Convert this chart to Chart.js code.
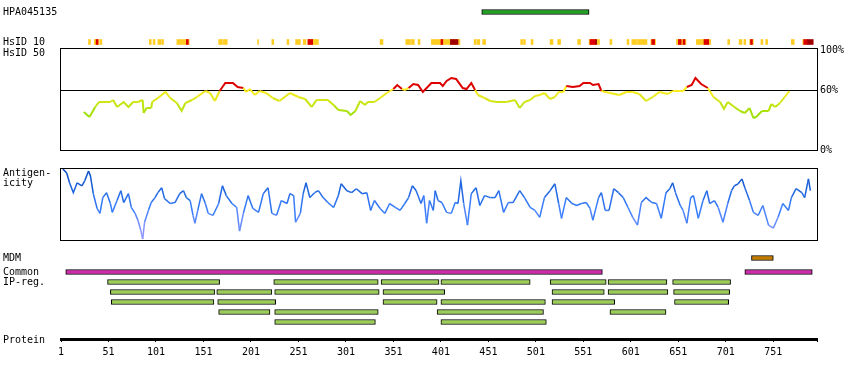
<!DOCTYPE html>
<html>
<head>
<meta charset="utf-8">
<script src="https://cdn.jsdelivr.net/npm/chart.js@4"></script>
<style>
  body { margin: 0; background: #fff; }
  #wrap { position: relative; width: 850px; height: 380px; overflow: hidden; }
  #wrap canvas { position: absolute; left: 0; }
</style>
</head>
<body>
<div id="wrap">
  <canvas id="cTop" width="850" height="53" style="top:0px"></canvas>
  <canvas id="cHs50" width="850" height="120" style="top:40px"></canvas>
  <canvas id="cAg" width="850" height="90" style="top:160px"></canvas>
  <canvas id="cMdm" width="850" height="22" style="top:247px"></canvas>
  <canvas id="cTracks" width="850" height="72" style="top:261px"></canvas>
  <canvas id="cProt" width="850" height="40" style="top:328px"></canvas>
</div>
<script>
// protein length and axis ticks
const proteinLength = 797;
const tickResidues = [1, 51, 101, 151, 201, 251, 301, 351, 401, 451, 501, 551, 601, 651, 701, 751];

// antigen fragment
const antigenName = "HPA045135";
const antigenRange = [444, 557];

// HsID 10 hits (residue ranges)
const hsid10Yellow = [[30,32],[36,41],[42,44],[94,96],[98,100],[103,106],[107,109],[123,136],[167,171],[172,176],
  [208,209],[223,225],[239,241],[248,253],[256,259],[261,272],[337,340],[364,369],[370,373],[377,379],[391,421],
  [436,438],[439,442],[445,448],[485,487],[488,490],[496,498],[516,519],[524,527],[545,548],[557,568],[579,581],
  [597,599],[602,607],[608,618],[622,627],[649,659],[670,685],[703,705],[715,718],[720,722],[726,730],[738,740],
  [743,745],[770,773],[782,783]];
const hsid10Red = [[38,40],[133,135],[261,266],[401,403],[558,564],[623,626],[651,654],[656,658],[678,683],[727,729],[783,787]];
const hsid10DarkRed = [[411,419],[564,565],[787,793]];

// HsID 50 (% identity)
const hs50Residue = [25,31,37,41,47,53,56,60,67,72,77,82,87,88,91,96,97,103,111,116,123,128,132,139,144,153,158,163,168,174,
  182,187,193,196,200,205,210,217,224,231,242,251,258,265,270,277,282,288,293,302,306,311,316,321,324,331,337,344,351,355,
  360,363,367,372,377,382,391,400,403,407,412,417,424,428,433,437,440,447,453,460,470,479,484,489,495,500,505,510,516,521,
  525,530,533,540,547,551,558,561,567,570,579,589,596,603,610,617,624,631,640,645,656,660,665,669,675,682,688,695,699,703,
  710,716,721,726,730,733,739,746,749,753,758,763,768];
const hs50Value = [38,33,43,48,48,48,50,43,48,43,48,48,50,37,42,42,48,52,58,52,47,39,47,50,53,59,57,49,59,67,
  67,63,62,58,61,55,59,57,52,49,57,53,51,43,50,50,50,45,40,39,35,39,49,45,48,48,52,57,61,65,
  61,60,62,66,65,58,67,67,64,69,72,71,62,61,67,60,55,52,49,48,48,50,42,48,50,54,55,57,51,53,
  58,58,64,63,64,67,67,65,66,59,57,55,58,58,56,49,53,58,56,59,59,63,65,72,66,62,53,48,41,48,
  43,39,37,42,32,33,39,39,46,43,47,53,59];
const hs50Ticks = [0, 60, 100];

// antigenicity
const agResidue = [3,7,10,14,18,23,26,30,32,35,39,42,45,49,53,55,60,64,67,72,75,79,82,85,87,89,93,96,100,103,
  107,110,116,121,126,130,133,137,140,142,145,149,153,156,161,167,171,175,181,186,189,193,198,203,209,214,219,223,228,233,
  239,242,246,248,253,256,259,263,268,272,277,282,288,293,296,302,307,312,318,323,327,331,337,342,347,353,358,363,367,371,
  375,380,383,386,389,393,395,398,402,407,412,416,419,422,425,429,433,438,442,447,453,458,462,467,472,477,484,489,495,500,
  505,510,516,521,525,528,533,539,544,549,554,558,561,567,570,574,578,583,588,593,598,603,608,612,617,623,628,633,638,642,
  645,648,653,656,660,664,667,672,677,681,684,689,693,698,703,707,710,714,718,721,726,730,735,740,746,751,756,761,767,770,
  775,781,784,788,790];
const agValue = [72,68,58,48,58,55,60,70,65,47,32,27,43,48,37,28,40,50,38,47,33,27,20,10,1,18,30,38,43,48,
  53,42,37,38,47,50,43,40,25,17,30,47,37,27,25,37,55,45,37,33,9,27,45,32,28,47,53,27,25,40,
  37,47,45,18,27,47,58,43,48,50,43,38,33,45,57,50,48,52,47,48,30,40,32,27,37,33,30,37,43,55,
  50,37,45,17,40,30,50,40,38,28,27,38,37,60,37,15,47,53,35,45,43,43,50,28,38,38,50,43,33,30,
  23,43,50,57,37,22,43,37,35,37,38,32,20,43,48,30,30,52,48,43,33,23,15,38,43,38,37,22,48,52,
  58,48,35,30,17,43,45,22,40,50,37,40,33,18,37,50,55,57,62,53,40,28,25,35,15,12,23,37,30,43,
  52,48,43,62,50];

// MDM and common IP regions
const mdmRanges = [[728, 751]];
const commonRanges = [[6, 571], [721, 792]];
const ipRegRows = [
  [[50,168],[225,335],[338,399],[401,495],[516,575],[577,639],[645,706]],
  [[53,163],[165,223],[226,336],[340,405],[518,573],[577,640],[646,705]],
  [[54,162],[166,227],[340,397],[401,511],[518,584],[647,704]],
  [[167,221],[226,335],[397,509],[579,638]],
  [[226,332],[401,512]]
];

Chart.defaults.font.family = "'DejaVu Sans Mono', monospace";
Chart.defaults.font.size = 10;
Chart.defaults.color = "#000";
const FONT = "10px 'DejaVu Sans Mono', monospace";

const framePlugin = {
  id: "frame",
  afterDatasetsDraw(chart) {
    const { ctx, chartArea: a } = chart;
    ctx.save();
    ctx.strokeStyle = "#000";
    ctx.lineWidth = 1;
    ctx.strokeRect(a.left - 0.5, a.top - 0.5, a.right - a.left + 1, a.bottom - a.top + 1);
    ctx.restore();
  }
};

const sideLabelPlugin = {
  id: "sideLabel",
  afterDraw(chart, args, opts) {
    const { ctx, chartArea: a } = chart;
    const y0 = opts.from === "bottom" ? a.bottom : a.top;
    ctx.save();
    ctx.font = FONT;
    ctx.fillStyle = "#000";
    ctx.textBaseline = "middle";
    opts.lines.forEach((t, i) => ctx.fillText(t, 3, y0 + opts.dy + i * 10));
    ctx.restore();
  }
};

function xHidden() {
  return { type: "linear", min: 1, max: proteinLength, display: false };
}

function barSet(ranges, lane, color, border) {
  return {
    data: ranges.map(r => ({ x: r, y: lane })),
    backgroundColor: color,
    borderColor: "#000",
    borderWidth: border ? 1 : 0,
    borderSkipped: false,
    barThickness: 5,
    grouped: false
  };
}

// lanes are 10px apart; padding keeps room for the tick labels
function laneChart(id, lanes, shown, datasets, padTop, padBottom) {
  return new Chart(document.getElementById(id), {
    type: "bar",
    data: { labels: lanes, datasets: datasets },
    options: {
      indexAxis: "y",
      responsive: false,
      animation: false,
      events: [],
      layout: { padding: { left: 3, right: 33, top: padTop, bottom: padBottom } },
      plugins: { legend: { display: false }, tooltip: { enabled: false } },
      scales: {
        x: xHidden(),
        y: {
          type: "category",
          position: "left",
          grid: { display: false },
          border: { display: false },
          ticks: { crossAlign: "far", padding: 0, autoSkip: false, callback: (v, i) => shown[i] },
          afterFit: s => { s.width = 58; }
        }
      }
    }
  });
}

// top: antigen + HsID 10 (first dataset is drawn on top)
const topLanes = [antigenName, "g1", "g2", "HsID 10"];
laneChart("cTop", topLanes, [antigenName, "", "", "HsID 10"], [
  barSet([antigenRange], antigenName, "#22a022", true),
  barSet(hsid10DarkRed, "HsID 10", "#a00000", false),
  barSet(hsid10Red, "HsID 10", "#dd0000", false),
  barSet(hsid10Yellow, "HsID 10", "#ffcc22", false)
], 7, 6);

// HsID 50 panel
function mix(c1, c2, t) {
  return "rgb(" + c1.map((c, i) => Math.round(c + (c2[i] - c) * t)).join(",") + ")";
}
function hsColor(v) {
  if (v > 61) return "#dd0000";
  const t = Math.max(0, Math.min(1, (v - 30) / 30));
  return mix([136, 221, 0], [255, 236, 34], t);
}
new Chart(document.getElementById("cHs50"), {
  type: "line",
  data: {
    datasets: [{
      data: hs50Residue.map((r, i) => ({ x: r, y: hs50Value[i] })),
      borderWidth: 2,
      borderColor: "#ccee22",
      pointRadius: 0,
      fill: false,
      segment: { borderColor: c => hsColor((c.p0.parsed.y + c.p1.parsed.y) / 2) }
    }]
  },
  options: {
    responsive: false,
    animation: false,
    events: [],
    layout: { padding: { left: 61, right: 0, top: 9, bottom: 10 } },
    plugins: {
      legend: { display: false }, tooltip: { enabled: false },
      sideLabel: { lines: ["HsID 50"], from: "top", dy: 4 }
    },
    scales: {
      x: xHidden(),
      y: {
        position: "right",
        min: 0,
        max: 101,
        afterBuildTicks: s => { s.ticks = hs50Ticks.map(v => ({ value: v })); },
        afterFit: s => { s.width = 33; },
        ticks: { padding: 3, callback: v => v + "%" },
        grid: { drawTicks: false, lineWidth: 1, color: c => (c.tick && c.tick.value === 60 ? "#000" : "rgba(0,0,0,0)") },
        border: { display: false }
      }
    }
  },
  plugins: [framePlugin, sideLabelPlugin]
});

// antigenicity panel
function agColor(v) {
  const t = Math.max(0, Math.min(1, v / 72));
  if (t < 0.45) return mix([165, 155, 255], [55, 125, 250], t / 0.45);
  return mix([55, 125, 250], [0, 72, 190], (t - 0.45) / 0.55);
}
new Chart(document.getElementById("cAg"), {
  type: "line",
  data: {
    datasets: [{
      data: agResidue.map((r, i) => ({ x: r, y: agValue[i] })),
      borderWidth: 1.5,
      borderColor: "#3c82ff",
      pointRadius: 0,
      fill: false,
      segment: { borderColor: c => agColor((c.p0.parsed.y + c.p1.parsed.y) / 2) }
    }]
  },
  options: {
    responsive: false,
    animation: false,
    events: [],
    layout: { padding: { left: 61, right: 33, top: 9, bottom: 10 } },
    plugins: {
      legend: { display: false }, tooltip: { enabled: false },
      sideLabel: { lines: ["Antigen-", "icity"], from: "top", dy: 4 }
    },
    scales: {
      x: xHidden(),
      y: { min: 0, max: 72, display: false }
    }
  },
  plugins: [framePlugin, sideLabelPlugin]
});

// MDM
laneChart("cMdm", ["MDM"], ["MDM"], [barSet(mdmRanges, "MDM", "#c27a00", true)], 6, 6);

// common IP regions
const trackLanes = ["Common", "IP-reg.", "IP-reg. 3", "IP-reg. 4", "IP-reg. 5", "IP-reg. 6"];
const trackSets = [barSet(commonRanges, "Common", "#cc2aaa", true)];
ipRegRows.forEach((row, i) => trackSets.push(barSet(row, trackLanes[i + 1], "#9ccc5a", true)));
laneChart("cTracks", trackLanes, ["Common", "IP-reg.", "", "", "", ""], trackSets, 6, 6);

// protein axis
new Chart(document.getElementById("cProt"), {
  type: "line",
  data: { datasets: [{ data: [] }] },
  options: {
    responsive: false,
    animation: false,
    events: [],
    layout: { padding: { left: 61, right: 33, top: 0, bottom: 0 } },
    plugins: {
      legend: { display: false }, tooltip: { enabled: false },
      sideLabel: { lines: ["Protein"], from: "bottom", dy: 1 }
    },
    scales: {
      x: {
        type: "linear",
        position: "bottom",
        min: 1,
        max: proteinLength,
        afterBuildTicks: s => { s.ticks = tickResidues.concat([proteinLength]).map(v => ({ value: v })); },
        afterFit: s => { s.height = 29; },
        ticks: { padding: 4, autoSkip: false, maxRotation: 0, callback: v => (v === proteinLength ? "" : String(v)) },
        grid: { drawOnChartArea: false, tickLength: 3, color: "#000", lineWidth: 1 },
        border: { display: true, color: "#000", width: 3 }
      },
      y: { display: false, min: 0, max: 1 }
    }
  },
  plugins: [sideLabelPlugin]
});
</script>
</body>
</html>
